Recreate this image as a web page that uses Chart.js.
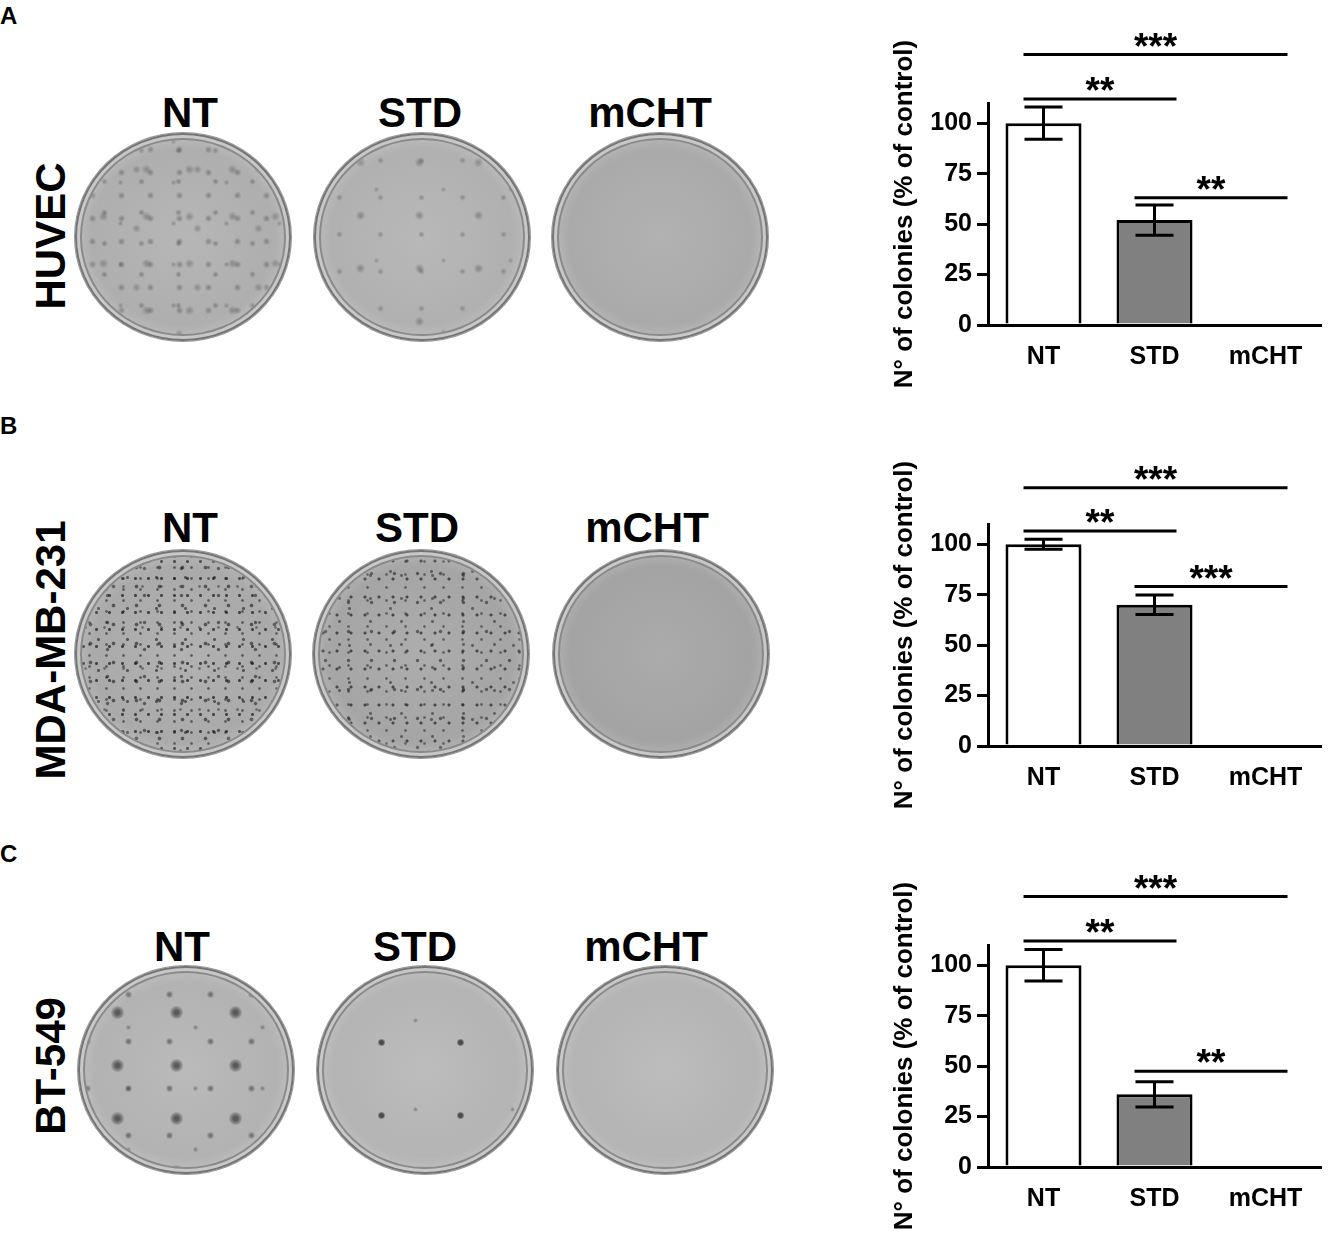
<!DOCTYPE html>
<html><head><meta charset="utf-8">
<script src="https://cdn.jsdelivr.net/npm/chart.js@4.4.1/dist/chart.umd.min.js"></script>
<style>
html,body{margin:0;padding:0;background:#fff;}
body{width:1328px;height:1246px;position:relative;overflow:hidden;font-family:"Liberation Sans",Arial,sans-serif;font-weight:bold;color:#000;}
.lbl{position:absolute;font-size:42px;line-height:1;white-space:nowrap;transform:translate(-50%,-50%);}
.rot{transform:translate(-50%,-50%) rotate(-90deg);}
.letter{position:absolute;left:0;font-size:24px;line-height:1;}
.dish{position:absolute;border-radius:50%;transform:translate(-50%,-50%);
  background-color:#b0b0b0;
  box-shadow: inset 0 0 0 2px #747474, inset 0 0 0 5px #c8c8c8, inset 0 0 0 7px #8a8a8a, inset 0 0 10px 10px rgba(255,255,255,.16), 0 0 0 1px #9a9a9a;}
.cv{position:absolute;left:880px;width:448px;height:410px;}
</style></head>
<body>
<div id="root"></div>
<script>
// ---------- data ----------
const categories = ['NT', 'STD', 'mCHT'];
const yTickValues = [0, 25, 50, 75, 100];
const yMax = 110;
const yTitle = 'N° of colonies (% of control)';

const huvecMean = [100, 52, 0.8];
const huvecErr  = [8, 7.5, 0];
const mdaMean   = [100, 70, 0.8];
const mdaErr    = [2.5, 4.8, 0];
const btMean    = [100, 36, 0.8];
const btErr     = [7.8, 6.3, 0];

// significance: [fromIndex, toIndex, level (% units), label]
const huvecSig = [[0, 2, 134, '***'], [0, 1, 112, '**'], [1, 2, 63, '**']];
const mdaSig   = [[0, 2, 128, '***'], [0, 1, 106.5, '**'], [1, 2, 79, '***']];
const btSig    = [[0, 2, 134, '***'], [0, 1, 112, '**'], [1, 2, 47.5, '**']];

const cellLines = ['HUVEC', 'MDA-MB-231', 'BT-549'];
const panelLetters = ['A', 'B', 'C'];

// ---------- layout / styles ----------
const rows = [
  {top: 0,   letterTop: 4,   cellY: 236,  labelY: 113, labelX: [190, 420, 650], dishX: [183, 422, 660], dishY: 237,  tex: ['huvecNT', 'huvecSTD', 'none'], base: ['#b2b2b2', '#b4b4b4', '#adadad']},
  {top: 421, letterTop: 414, cellY: 650,  labelY: 528, labelX: [190, 417, 647], dishX: [183, 421, 661], dishY: 654,  tex: ['mdaNT', 'mdaSTD', 'none'],     base: ['#adadad', '#a8a8a8', '#a6a6a6']},
  {top: 842, letterTop: 842, cellY: 1066, labelY: 947, labelX: [182, 415, 646], dishX: [186, 425, 665], dishY: 1070, tex: ['btNT', 'btSTD', 'none'],       base: ['#b6b6b6', '#b8b8b8', '#b8b8b8']}
];
function spots(c, a, r0, r1, x, y, w, h) {
  return 'radial-gradient(circle, rgba(' + c + ',' + c + ',' + c + ',' + a + ') 0 ' + r0 + 'px, transparent ' + r1 + 'px) ' + x + 'px ' + y + 'px/' + w + 'px ' + h + 'px';
}
const textures = {
  none: '',
  huvecNT: [spots(80, .45, 0.5, 4, 3, 5, 29, 23), spots(70, .4, 0.5, 3.5, 11, 2, 37, 31),
            spots(90, .4, 1, 5, 7, 13, 43, 47), spots(75, .35, 0.5, 3, 19, 29, 53, 41), spots(85, .35, 1, 4.5, 31, 7, 61, 59)].join(','),
  huvecSTD: [spots(85, .4, 0.5, 3.5, 5, 9, 41, 37), spots(80, .4, 1, 5, 17, 3, 59, 53), spots(90, .35, 0.5, 3, 29, 21, 67, 71)].join(','),
  mdaNT: [spots(20, .7, 1, 2, 2, 3, 13, 17), spots(30, .6, 0.8, 1.8, 6, 1, 17, 11), spots(25, .6, 1.3, 2.3, 4, 8, 23, 19),
          spots(25, .6, 1, 2, 9, 12, 29, 31), spots(20, .55, 1.2, 2.2, 14, 5, 37, 27), spots(30, .5, 0.8, 1.8, 1, 16, 19, 41)].join(','),
  mdaSTD: [spots(20, .65, 1, 2, 3, 2, 14, 18), spots(30, .55, 0.8, 1.8, 7, 5, 19, 13), spots(25, .55, 1.2, 2.2, 1, 9, 23, 29),
           spots(25, .5, 1, 2, 11, 14, 31, 23), spots(20, .5, 1, 2, 16, 3, 41, 37)].join(','),
  btNT: ['radial-gradient(circle, rgba(50,50,50,.7) 0 2px, rgba(60,60,60,.35) 5px, transparent 7px) 10px 20px/59px 53px',
         spots(60, .55, 1, 4, 30, 5, 41, 47), spots(70, .45, 0.5, 3, 17, 31, 67, 61)].join(','),
  btSTD: [spots(40, .75, 2, 4, 25, 40, 79, 73), spots(60, .45, 0.5, 2.5, 50, 10, 97, 89)].join(',')
};

const root = document.getElementById('root');
rows.forEach((r, ri) => {
  const L = document.createElement('div');
  L.className = 'letter'; L.style.top = r.letterTop + 'px'; L.textContent = panelLetters[ri];
  root.appendChild(L);
  const C = document.createElement('div');
  C.className = 'lbl rot'; C.style.left = '51px'; C.style.top = r.cellY + 'px'; C.textContent = cellLines[ri];
  root.appendChild(C);
  categories.forEach((c, ci) => {
    const t = document.createElement('div');
    t.className = 'lbl'; t.style.left = r.labelX[ci] + 'px'; t.style.top = r.labelY + 'px'; t.textContent = c;
    root.appendChild(t);
    const d = document.createElement('div');
    d.className = 'dish';
    d.style.left = r.dishX[ci] + 'px'; d.style.top = r.dishY + 'px';
    d.style.width = '216px'; d.style.height = '208px';
    const tex = textures[r.tex[ci]];
    d.style.background = (tex ? tex + ',' : '') +
      'radial-gradient(ellipse at 50% 50%, rgba(255,255,255,.06) 0, rgba(0,0,0,.05) 100%) ' + r.base[ci];
    root.appendChild(d);
  });
});

// ---------- charts ----------
const errorBars = {
  id: 'errorBars',
  afterDatasetsDraw(chart) {
    const meta = chart.getDatasetMeta(0), y = chart.scales.y, ctx = chart.ctx;
    const ds = chart.data.datasets[0];
    ctx.save(); ctx.strokeStyle = '#000'; ctx.lineWidth = 3; ctx.lineCap = 'butt';
    meta.data.forEach((bar, i) => {
      const e = ds.errors[i]; if (!e) return;
      const m = ds.data[i];
      const yt = y.getPixelForValue(m + e), yb = y.getPixelForValue(m - e), hw = bar.width / 4;
      ctx.beginPath();
      ctx.moveTo(bar.x, yt); ctx.lineTo(bar.x, yb);
      ctx.moveTo(bar.x - hw, yt); ctx.lineTo(bar.x + hw, yt);
      ctx.moveTo(bar.x - hw, yb); ctx.lineTo(bar.x + hw, yb);
      ctx.stroke();
    });
    ctx.restore();
  }
};
const sigBars = {
  id: 'sigBars',
  afterDraw(chart, args, opts) {
    const x = chart.scales.x, y = chart.scales.y, ctx = chart.ctx;
    ctx.save(); ctx.strokeStyle = '#000'; ctx.fillStyle = '#000'; ctx.lineWidth = 3;
    ctx.font = 'bold 37px "Liberation Sans", Arial, sans-serif';
    ctx.textAlign = 'center'; ctx.textBaseline = 'alphabetic';
    (opts.items || []).forEach(([a, b, lvl, txt]) => {
      const x1 = x.getPixelForValue(a) - 20, x2 = x.getPixelForValue(b) + 22, yy = y.getPixelForValue(lvl);
      ctx.beginPath(); ctx.moveTo(x1, yy); ctx.lineTo(x2, yy); ctx.stroke();
      ctx.fillText(txt, (x1 + x2) / 2, yy + 4);
    });
    ctx.restore();
  }
};

const panels = [
  {top: rows[0].top, mean: huvecMean, err: huvecErr, sig: huvecSig},
  {top: rows[1].top, mean: mdaMean, err: mdaErr, sig: mdaSig},
  {top: rows[2].top, mean: btMean, err: btErr, sig: btSig}
];
const font = (s) => ({family: '"Liberation Sans", Arial, sans-serif', size: s, weight: 'bold'});

panels.forEach((p) => {
  const wrap = document.createElement('div');
  wrap.className = 'cv'; wrap.style.top = p.top + 'px';
  const cv = document.createElement('canvas');
  cv.width = 448; cv.height = 410;
  wrap.appendChild(cv); root.appendChild(wrap);
  new Chart(cv, {
    type: 'bar',
    data: {
      labels: categories,
      datasets: [{
        data: p.mean, errors: p.err,
        backgroundColor: ['#ffffff', '#808080', '#808080'],
        borderColor: '#000', borderWidth: 3,
        categoryPercentage: 1, barPercentage: 0.685
      }]
    },
    options: {
      responsive: false, animation: false,
      layout: {padding: {top: 103, right: 7, left: 0, bottom: 0}},
      plugins: {legend: {display: false}, tooltip: {enabled: false}, sigBars: {items: p.sig}},
      scales: {
        x: {
          grid: {display: false},
          border: {display: true, color: '#000', width: 3},
          ticks: {color: '#000', font: font(25), padding: 9},
          afterFit: (s) => { s.height = 85; }
        },
        y: {
          min: 0, max: yMax,
          afterBuildTicks: (s) => { s.ticks = yTickValues.map(v => ({value: v})); },
          grid: {display: true, drawOnChartArea: false, drawTicks: true, tickLength: 11, color: '#000', lineWidth: 3},
          border: {display: true, color: '#000', width: 3},
          ticks: {color: '#000', font: font(25), padding: 5},
          title: {display: true, text: yTitle, color: '#000', font: font(26), padding: {top: 9, bottom: 0}},
          afterFit: (s) => { s.width = 108; }
        }
      }
    },
    plugins: [errorBars, sigBars]
  });
});
</script>
</body></html>
